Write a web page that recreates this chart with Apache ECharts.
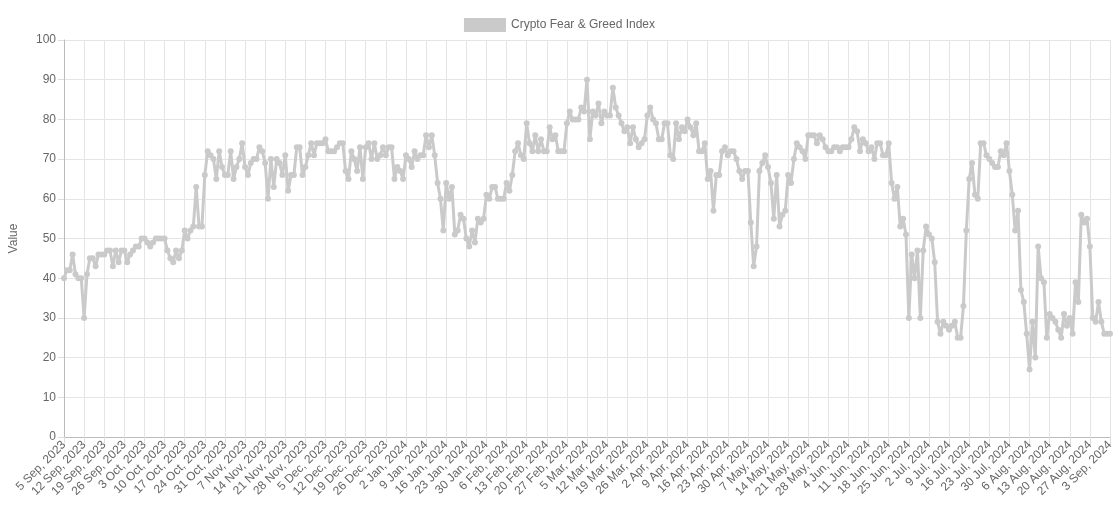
<!DOCTYPE html>
<html>
<head>
<meta charset="utf-8">
<script src="https://cdn.jsdelivr.net/npm/echarts@6/dist/echarts.min.js"></script>
<style>
html,body{margin:0;padding:0;background:#fff;}
#c{width:1119px;height:524px;}
</style>
</head>
<body>
<div id="c"></div>
<script>
// Start date of the daily series and its formatting
var startDate = [2023, 8, 5]; // 5 Sep 2023 (month index 8)
var monthNames = ['Jan','Feb','Mar','Apr','May','Jun','Jul','Aug','Sep','Oct','Nov','Dec'];

// Daily index values, 5 Sep 2023 .. 3 Sep 2024
var values = [
40,42,42,46,41,40,40,30,41,45,45,43,46,46,46,47,47,43,47,44,47,47,44,46,47,48,48,50,50,49,
48,49,50,50,50,50,47,45,44,47,45,47,52,50,52,53,63,53,53,66,72,71,70,65,72,68,66,66,72,65,
68,70,74,68,66,69,70,70,73,72,69,60,70,63,70,69,66,71,62,66,66,73,73,66,68,71,74,71,74,74,
74,75,72,72,72,73,74,74,67,65,72,70,67,73,65,73,74,70,74,70,71,73,71,73,73,65,68,67,65,71,
70,68,72,70,71,71,76,73,76,71,64,60,52,64,60,63,51,52,56,55,50,48,52,49,55,54,55,61,60,63,
63,60,60,60,64,62,66,72,74,71,70,79,74,72,76,72,75,72,72,78,75,76,72,72,72,79,82,80,80,80,
83,82,90,75,82,81,84,79,82,81,81,88,83,81,79,77,78,74,78,75,73,74,75,81,83,80,79,75,75,79,
79,71,70,79,75,78,77,80,78,76,79,72,72,74,65,67,57,66,66,72,73,71,72,72,70,67,65,67,67,54,
43,48,67,69,71,68,64,55,66,53,56,57,66,64,70,74,73,72,70,76,76,76,74,76,75,73,72,72,73,73,
72,73,73,73,75,78,77,72,75,74,72,73,70,74,74,71,71,74,64,60,63,53,55,51,30,46,40,47,30,47,
53,51,50,44,29,26,29,28,27,28,29,25,25,33,52,65,69,61,60,74,74,71,70,69,68,68,72,71,74,67,
61,52,57,37,34,26,17,29,20,48,40,39,25,31,30,29,27,25,31,28,30,26,39,34,56,54,55,48,30,29,
34,29,26,26,26
];

var yTicks = [0,10,20,30,40,50,60,70,80,90,100];
var seriesName = 'Crypto Fear & Greed Index';
var yName = 'Value';

var categories = [];
for (var i = 0; i < values.length; i++) {
  var d = new Date(Date.UTC(startDate[0], startDate[1], startDate[2] + i));
  categories.push(d.getUTCDate() + ' ' + monthNames[d.getUTCMonth()] + ', ' + d.getUTCFullYear());
}

var chart = echarts.init(document.getElementById('c'), null, {renderer: 'canvas'});
var txt = '#666';
var lineCol = 'rgb(202,202,202)';
var font = 'Liberation Sans, Arial, Helvetica, sans-serif';
chart.setOption({
  animation: false,
  textStyle: {fontFamily: font},
  legend: {
    data: [{name: seriesName, icon: 'rect'}],
    top: 13,
    left: 'center',
    itemWidth: 42,
    itemHeight: 14,
    itemGap: 10,
    textStyle: {color: txt, fontSize: 12, fontFamily: font}
  },
  grid: {left: 64, right: 9, top: 40, bottom: 87, containLabel: false},
  xAxis: {
    type: 'category',
    data: categories,
    boundaryGap: false,
    axisLine: {show: true, lineStyle: {color: '#bbb'}},
    axisTick: {show: true, interval: 6, length: 6, lineStyle: {color: '#ddd'}},
    axisLabel: {interval: 6, rotate: 45, color: txt, fontSize: 12, fontFamily: font, margin: 6},
    splitLine: {show: true, interval: 6, lineStyle: {color: '#e5e5e5'}}
  },
  yAxis: {
    type: 'value',
    min: yTicks[0],
    max: yTicks[yTicks.length - 1],
    interval: 10,
    name: yName,
    nameLocation: 'middle',
    nameRotate: 90,
    nameGap: 44,
    nameTextStyle: {color: txt, fontSize: 12, fontFamily: font},
    axisLine: {show: true, lineStyle: {color: '#bbb'}},
    axisTick: {show: true, length: 6, lineStyle: {color: '#ddd'}},
    axisLabel: {color: txt, fontSize: 12, fontFamily: font, margin: 8},
    splitLine: {show: true, lineStyle: {color: '#e5e5e5'}}
  },
  series: [{
    name: seriesName,
    type: 'line',
    data: values,
    showAllSymbol: true,
    symbol: 'circle',
    symbolSize: 6,
    itemStyle: {color: lineCol},
    lineStyle: {color: lineCol, width: 3},
    emphasis: {disabled: true}
  }]
});
</script>
</body>
</html>
